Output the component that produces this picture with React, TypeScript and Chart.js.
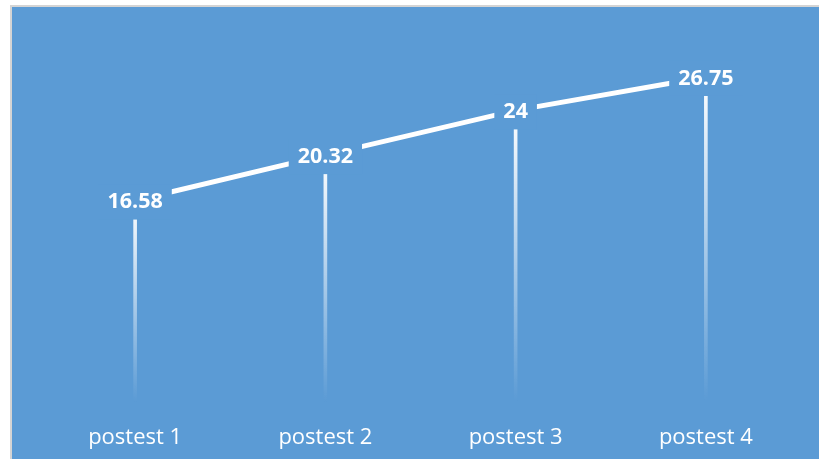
import React, { useEffect, useRef } from "react";
import { Chart, registerables } from "chart.js";

Chart.register(...registerables);

const categories: string[] = ["postest 1", "postest 2", "postest 3", "postest 4"];
const scores: number[] = [16.58, 20.32, 24, 26.75];
const valueLabels: string[] = ["16.58", "20.32", "24", "26.75"];

const BG = "#5B9BD5";

const labelPlugin = {
  id: "boxedLabels",
  afterDatasetsDraw(chart: any) {
    const meta = chart.getDatasetMeta(1);
    const ctx = chart.ctx;
    ctx.save();
    ctx.font = "bold 21.5px 'Open Sans'";
    ctx.textAlign = "center";
    ctx.textBaseline = "middle";
    meta.data.forEach((pt: any, i: number) => {
      const text = valueLabels[i];
      const w = ctx.measureText(text).width;
      const cx = pt.x;
      const cy = pt.y + 1.5;
      ctx.fillStyle = BG;
      ctx.fillRect(cx - w / 2 - 9, cy - 17.5, w + 18, 35);
      ctx.fillStyle = "#ffffff";
      ctx.fillText(text, cx, cy);
    });
    ctx.restore();
  },
};

export default function App() {
  const ref = useRef<HTMLCanvasElement | null>(null);
  useEffect(() => {
    if (!ref.current) return;
    const chart = new Chart(ref.current, {
      type: "bar",
      data: {
        labels: categories,
        datasets: [
          {
            type: "bar",
            data: scores,
            barThickness: 3,
            order: 2,
            backgroundColor: (c: any) => {
              const ch = c.chart;
              const area = ch.chartArea;
              if (!area || c.raw === undefined) return "rgba(255,255,255,0.6)";
              const top = ch.scales.y.getPixelForValue(c.raw);
              const g = ch.ctx.createLinearGradient(0, top, 0, area.bottom);
              g.addColorStop(0, "rgba(255,255,255,1)");
              g.addColorStop(1, "rgba(255,255,255,0)");
              return g;
            },
          } as any,
          {
            type: "line",
            data: scores,
            borderColor: "#ffffff",
            borderWidth: 5,
            pointRadius: 0,
            tension: 0,
            order: 1,
          } as any,
        ],
      },
      options: {
        responsive: false,
        animation: false,
        layout: { padding: { left: 28, right: 18, top: 30.5, bottom: 0 } },
        plugins: { legend: { display: false }, tooltip: { enabled: false } },
        scales: {
          x: {
            offset: true,
            grid: { display: false, drawTicks: false },
            border: { display: false },
            afterFit: (scale: any) => {
              scale.height = 57;
            },
            ticks: {
              color: "#ffffff",
              padding: 23,
              font: { family: "'Open Sans'", size: 22 },
            },
          },
          y: {
            display: false,
            min: 0,
            max: 30,
          },
        },
      } as any,
      plugins: [labelPlugin],
    });
    return () => chart.destroy();
  }, []);
  return (
    <div style={{ position: "fixed", left: 0, top: 0, width: 819, height: 459, background: "#ffffff", overflow: "hidden" }}>
      <div
        style={{
          position: "absolute",
          left: 10,
          top: 5,
          right: 0,
          bottom: 0,
          borderTop: "2px solid #d4d4d4",
          borderLeft: "2px solid #d4d4d4",
          background: BG,
        }}
      >
        <canvas ref={ref} width={807} height={452} style={{ display: "block" }} />
      </div>
    </div>
  );
}
